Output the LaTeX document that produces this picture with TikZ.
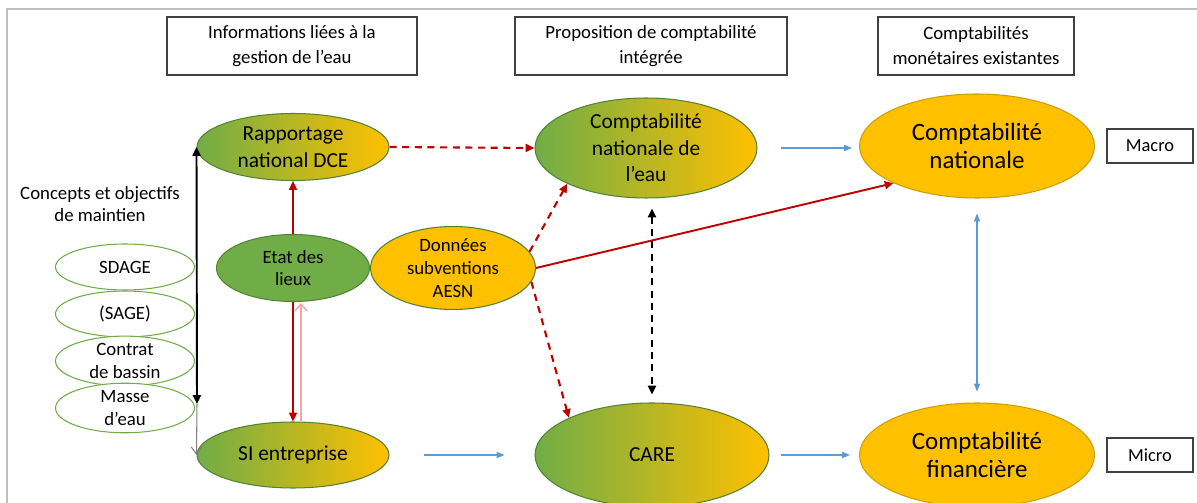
\documentclass[tikz,border=0pt]{standalone}
\usepackage{fontspec}
\setmainfont{Carlito}
\usetikzlibrary{shapes.geometric,arrows.meta}
\definecolor{gr}{HTML}{70AD47}
\definecolor{grd}{HTML}{548235}
\definecolor{og}{HTML}{FFC000}
\definecolor{ogd}{HTML}{C9A000}
\definecolor{rd}{HTML}{C00000}
\definecolor{pk}{HTML}{F4A6A6}
\definecolor{bl}{HTML}{5B9BD5}
\definecolor{frm}{HTML}{BFBFBF}
\definecolor{bx}{HTML}{404040}
\tikzset{
  smallfont/.style={font=\fontsize{10.7}{13}\selectfont},
  midfont/.style={font=\fontsize{12.2}{15.1}\selectfont},
  bigfont/.style={font=\fontsize{14.2}{15.9}\selectfont},
  ell/.style={ellipse, inner sep=0pt, align=center, draw=grd, line width=0.6pt},
  gradell/.style={ell, left color=gr, right color=og, midfont},
  orell/.style={ell, fill=og, draw=ogd, bigfont},
  whell/.style={ell, fill=white, draw=gr, smallfont, minimum width=2.78cm, minimum height=0.92cm},
  hdr/.style={draw=bx, line width=0.9pt, fill=white, align=center, inner sep=0pt,
     font=\fontsize{10.7}{14.2}\selectfont, minimum height=1.16cm},
  scale box/.style={draw=bx, line width=0.9pt, fill=white, inner sep=0pt,
     font=\fontsize{10.5}{13}\selectfont, minimum width=1.72cm, minimum height=0.68cm},
  redsolid/.style={draw=rd, line width=1.1pt, -{Triangle[length=5pt,width=4.5pt]}},
  reddash/.style={draw=rd, line width=1.2pt, dash pattern=on 4pt off 3.2pt, -{Triangle[length=5pt,width=4.5pt]}},
  bluearr/.style={draw=bl, line width=0.6pt, -{Triangle[length=4.5pt,width=3.5pt]}},
}
\begin{document}
\begin{tikzpicture}[x=0.02cm,y=-0.02cm]
\useasboundingbox (0,0) rectangle (1197,503);
\fill[white] (0,0) rectangle (1197,503);
\draw[frm, line width=1.2pt] (7,503) -- (7,9) -- (1197,9);

% headers
\node[hdr, minimum width=5cm] (h1) at (292,46) {Informations liées à la\\gestion de l’eau};
\node[hdr, minimum width=5.44cm] (h2) at (651,46) {Proposition de comptabilité\\intégrée};
\node[hdr, minimum width=3.92cm] (h3) at (976,46) {Comptabilités\\monétaires existantes};

\node[scale box] (macro) at (1150,146) {Macro};
\node[scale box] (micro) at (1150,455) {Micro};

% left column
\node[smallfont, align=center] (concepts) at (100,204) {Concepts et objectifs\\de maintien};
\node[whell] (sdage) at (125,267) {SDAGE};
\node[whell] (sage) at (125,314) {(SAGE)};
\node[whell] (contrat) at (125,361) {Contrat\\de bassin};
\node[whell] (masse) at (125,408) {Masse\\d’eau};

% information column
\node[gradell, minimum width=3.84cm, minimum height=1.34cm] (rap) at (293,147) {Rapportage\\national DCE};
\node[ell, fill=gr, smallfont, minimum width=3.06cm, minimum height=1.34cm] (etat) at (293,268) {Etat des\\lieux};
\node[gradell, minimum width=3.84cm, minimum height=1.32cm] (si) at (293,455) {SI entreprise};
\node[ell, fill=og, smallfont, minimum width=3.3cm, minimum height=1.48cm] (aesn) at (453,268) {Données\\subventions\\AESN};

% proposed
\node[gradell, minimum width=4.44cm, minimum height=2.0cm] (cne) at (646,148) {Comptabilité\\nationale de\\l’eau};
\node[gradell, minimum width=4.68cm, minimum height=2.08cm] (care) at (652,455) {CARE};

% existing
\node[orell, minimum width=4.7cm, minimum height=2.08cm] (cn) at (977,146) {Comptabilité\\nationale};
\node[orell, minimum width=4.7cm, minimum height=2.08cm] (cf) at (977,455) {Comptabilité\\financière};

% connectors
\coordinate (blkend) at (197,404);
\draw[black, line width=1.1pt, {Triangle[length=5pt,width=4.5pt]}-{Triangle[length=5pt,width=4.5pt]}] (rap.west) -- (blkend);
\draw[gray, line width=0.6pt, -{Straight Barb[length=4pt,width=6pt]}] (blkend) -- (si.west);

\draw[redsolid] (etat.north) -- (rap.south);
\draw[redsolid] (etat.south) -- (si.north);
\draw[pk, line width=0.8pt, -{Straight Barb[length=4pt,width=7pt]}] ([xshift=0.16cm]si.north) -- ([xshift=0.16cm,yshift=-0.02cm]etat.south);

\draw[reddash] (rap.east) -- (cne.west);
\draw[reddash] (aesn.12) -- (cne.south west);
\draw[reddash] (aesn.-10) -- (care.north west);
\draw[redsolid] (aesn.east) -- (cn.south west);

\draw[black, line width=1.2pt, dash pattern=on 4pt off 3pt, shorten <=0.2cm, shorten >=0.16cm,
  {Triangle[length=5pt,width=4.5pt]}-{Triangle[length=5pt,width=4.5pt]}] (care.north |- cne.south) -- (care.north);

\draw[bluearr, shorten <=0.46cm, shorten >=0.14cm] (cne.east) -- (cn.west |- cne.east);
\draw[bluearr, shorten <=0.22cm, shorten >=0.18cm] (care.east) -- (cf.west);
\draw[bluearr, shorten <=0.68cm, shorten >=0.6cm] (si.east) -- (care.west);
\draw[bluearr, {Triangle[length=4.5pt,width=3.5pt]}-{Triangle[length=4.5pt,width=3.5pt]}, shorten <=0.3cm, shorten >=0.22cm] (cn.south) -- (cf.north);
\end{tikzpicture}
\end{document}
